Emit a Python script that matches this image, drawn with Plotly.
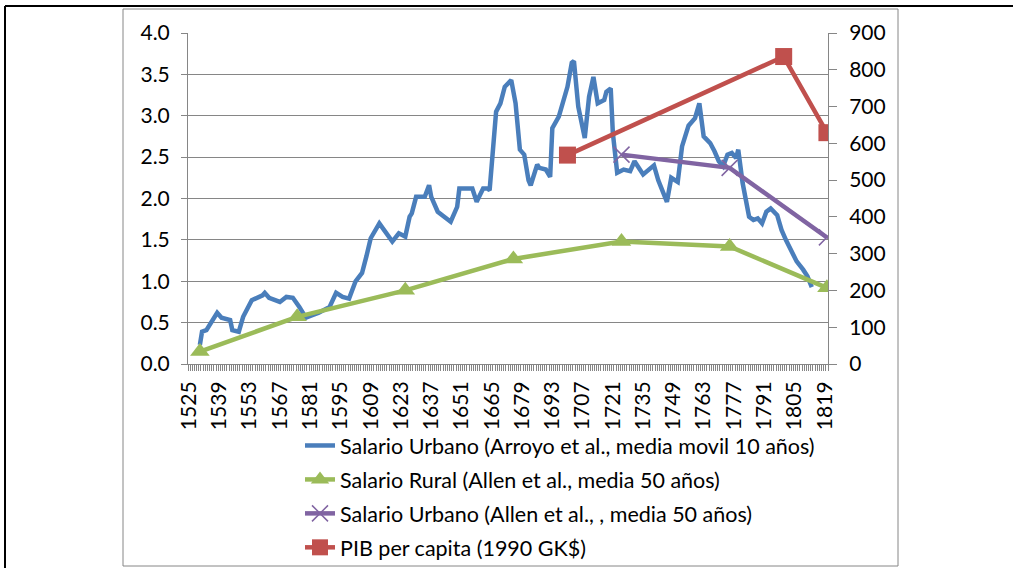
import plotly.graph_objects as go

# ---- data ----
urb_arroyo_years = [1530, 1531, 1533, 1535, 1538, 1540, 1544, 1545, 1548, 1550, 1554, 1559, 1560, 1562,
                    1567, 1570, 1573, 1576, 1579, 1582, 1585, 1590, 1593, 1596, 1599, 1602, 1605, 1607,
                    1609, 1613, 1616, 1619, 1622, 1625, 1627, 1628, 1630, 1634, 1636, 1637, 1640, 1646,
                    1649, 1650, 1656, 1658, 1661, 1663, 1664, 1667, 1669, 1671, 1674, 1676, 1678, 1680,
                    1682, 1683, 1686, 1687, 1690, 1692, 1693, 1696, 1700, 1702, 1703, 1705, 1708, 1710,
                    1712, 1714, 1717, 1718, 1720, 1721, 1723, 1726, 1729, 1731, 1735, 1738, 1740, 1742,
                    1746, 1748, 1751, 1753, 1756, 1759, 1761, 1763, 1766, 1768, 1770, 1772, 1774, 1776,
                    1778, 1779, 1781, 1784, 1786, 1788, 1790, 1792, 1794, 1797, 1799, 1801, 1804, 1806,
                    1809, 1811, 1813]
urb_arroyo_vals = [0.23, 0.39, 0.41, 0.50, 0.62, 0.56, 0.53, 0.41, 0.39, 0.57, 0.77, 0.83, 0.86, 0.80,
                   0.75, 0.81, 0.80, 0.69, 0.56, 0.59, 0.62, 0.69, 0.86, 0.81, 0.79, 1.00, 1.10, 1.30,
                   1.52, 1.70, 1.58, 1.48, 1.58, 1.54, 1.78, 1.82, 2.02, 2.02, 2.16, 2.02, 1.84, 1.72,
                   1.90, 2.12, 2.12, 1.96, 2.12, 2.12, 2.10, 3.05, 3.15, 3.35, 3.43, 3.15, 2.59, 2.53,
                   2.22, 2.16, 2.41, 2.37, 2.35, 2.26, 2.85, 2.99, 3.35, 3.64, 3.66, 3.11, 2.73, 3.23,
                   3.47, 3.15, 3.19, 3.29, 3.33, 2.79, 2.31, 2.35, 2.33, 2.45, 2.29, 2.35, 2.40, 2.22,
                   1.96, 2.25, 2.20, 2.63, 2.88, 2.97, 3.15, 2.75, 2.67, 2.57, 2.45, 2.39, 2.53, 2.55,
                   2.49, 2.59, 2.19, 1.78, 1.74, 1.76, 1.70, 1.84, 1.88, 1.80, 1.62, 1.50, 1.34, 1.24,
                   1.14, 1.06, 0.93]

rural_years = [1530, 1575, 1625, 1675, 1725, 1775, 1820]
rural_vals = [0.15, 0.57, 0.89, 1.27, 1.48, 1.42, 0.92]

urb_allen_years = [1725, 1775, 1820]
urb_allen_vals = [2.53, 2.37, 1.53]

pib_years = [1700, 1800, 1820]
pib_vals = [568, 836, 629]

tick_years = list(range(1525, 1820, 14))
tick_labels = [str(y) for y in tick_years]

names = ["Salario Urbano (Arroyo et al., media movil 10 años)",
         "Salario Rural (Allen et al., media 50 años)",
         "Salario Urbano (Allen et al., , media 50 años)",
         "PIB per capita (1990 GK$)"]

BLUE = "#4A7EBB"
GREEN = "#9BBB59"
PURPLE = "#8064A2"
RED = "#C0504D"
GRID = "#868686"
FONT = "Lato"
TICK_FS = 21
LEG_FS = 21.5

fig = go.Figure()
fig.add_trace(go.Scatter(x=urb_arroyo_years, y=urb_arroyo_vals, mode="lines", name=names[0],
                         legendgroup="a", line=dict(color=BLUE, width=4.5)))
fig.add_trace(go.Scatter(x=rural_years, y=rural_vals, mode="lines+markers", name=names[1],
                         legendgroup="b", line=dict(color=GREEN, width=4.5),
                         marker=dict(symbol="triangle-up", size=17, color=GREEN)))
fig.add_trace(go.Scatter(x=urb_allen_years, y=urb_allen_vals, mode="lines+markers", name=names[2],
                         legendgroup="c", line=dict(color=PURPLE, width=4.5),
                         marker=dict(symbol="x-thin", size=16, color=PURPLE,
                                     line=dict(color=PURPLE, width=1.5))))
fig.add_trace(go.Scatter(x=pib_years, y=pib_vals, mode="lines+markers", name=names[3],
                         legendgroup="d", yaxis="y2", line=dict(color=RED, width=4.5),
                         marker=dict(symbol="square", size=17, color=RED)))

def px2x(px):
    return (px - 188) / 640.0

def px2y(py):
    return (364 - py) / 331.0

shapes = [
    # inner chart frame
    dict(type="rect", xref="paper", yref="paper", x0=px2x(123), x1=px2x(898), y0=px2y(566), y1=px2y(9),
         line=dict(color=GRID, width=1), fillcolor="rgba(0,0,0,0)", layer="below"),
    # outer black frame (top and left)
    dict(type="line", xref="paper", yref="paper", x0=px2x(5), x1=px2x(1015), y0=px2y(6), y1=px2y(6),
         line=dict(color="black", width=2)),
    dict(type="line", xref="paper", yref="paper", x0=px2x(5), x1=px2x(5), y0=px2y(6), y1=px2y(570),
         line=dict(color="black", width=2)),
]

fig.update_layout(
    width=1013, height=568,
    margin=dict(l=188, r=185, t=33, b=204, autoexpand=False),
    paper_bgcolor="white", plot_bgcolor="white",
    font=dict(family=FONT, size=TICK_FS, color="black"),
    showlegend=True,
    legend=dict(x=px2x(300), y=px2y(425), xanchor="left", yanchor="top",
                font=dict(family=FONT, size=LEG_FS, color="black"),
                bgcolor="rgba(0,0,0,0)", tracegroupgap=3, traceorder="grouped"),
    shapes=shapes,
    xaxis=dict(range=[1524.5, 1820.5], tickmode="array", tickvals=tick_years, ticktext=tick_labels,
               tickangle=-90, ticks="", showgrid=False, zeroline=False,
               showline=True, linecolor=GRID, linewidth=1, ticklabelstandoff=8,
               tickfont=dict(family=FONT, size=TICK_FS, color="black"),
               minor=dict(tick0=1524.5, dtick=1, ticks="outside", ticklen=6, tickcolor=GRID, tickwidth=1,
                          showgrid=False)),
    yaxis=dict(range=[0, 4], dtick=0.5, tick0=0, tickformat=".1f", showgrid=True, gridcolor=GRID,
               gridwidth=1, zeroline=False, showline=True, linecolor=GRID, linewidth=1,
               ticks="outside", ticklen=6, tickcolor=GRID, ticklabelstandoff=7,
               tickfont=dict(family=FONT, size=TICK_FS, color="black")),
    yaxis2=dict(range=[0, 900], dtick=100, tick0=0, overlaying="y", side="right", showgrid=False,
                zeroline=False, showline=True, linecolor=GRID, linewidth=1,
                ticks="outside", ticklen=8, tickcolor=GRID, ticklabelstandoff=8,
                tickfont=dict(family=FONT, size=TICK_FS, color="black")),
)

fig.write_html("out.html", config={"displayModeBar": False},
               post_script="document.body.style.margin='0px';document.body.style.overflow='hidden';")
